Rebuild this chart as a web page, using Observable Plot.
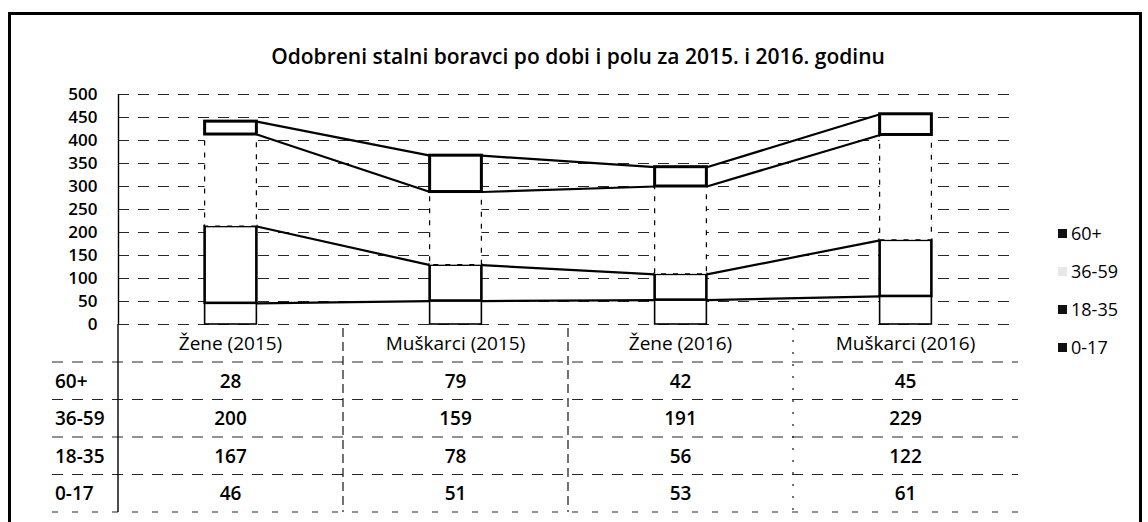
<!DOCTYPE html>
<html>
<head>
<meta charset="utf-8">
<script src="https://cdn.jsdelivr.net/npm/d3@7"></script>
<script src="https://cdn.jsdelivr.net/npm/@observablehq/plot@0.6"></script>
<style>
  html, body { margin: 0; padding: 0; background: #fff; }
  body { width: 1148px; height: 522px; position: relative; overflow: hidden; font-family: "Open Sans", sans-serif; color: #000; }
  #frame { position: absolute; left: 8px; top: 12px; width: 1134px; height: 530px; border: 3px solid #000; box-sizing: border-box; }
  #title { position: absolute; left: 0; width: 1156px; top: 42px; text-align: center; font-size: 21px; font-weight: 600; line-height: 28px; }
  #chart { position: absolute; left: 0; top: 70px; }
  #tablelines { position: absolute; left: 0; top: 0; pointer-events: none; }
  .t { position: absolute; white-space: nowrap; line-height: 1; }
  .c { transform: translate(-50%, -50%); }
  .l { transform: translate(0, -50%); }
  .hdr { font-size: 19px; font-weight: 500; }
  .val { font-size: 19px; font-weight: 600; }
  .rowlab { font-size: 19px; font-weight: 600; }
  .leg { position: absolute; left: 1058px; font-size: 18px; font-weight: 500; display: flex; align-items: center; transform: translate(0, -50%); white-space: nowrap; line-height: 1; }
  .leg i { display: inline-block; width: 9px; height: 9px; margin-right: 4px; }
</style>
</head>
<body>
<div id="frame"></div>
<div id="title">Odobreni stalni boravci po dobi i polu za 2015. i 2016. godinu</div>
<div id="chart"></div>
<script>
// ---- data ----
const categories = ["Žene (2015)", "Muškarci (2015)", "Žene (2016)", "Muškarci (2016)"];
const series = ["0-17", "18-35", "36-59", "60+"];          // stacking order, bottom to top
const values0_17 = [46, 51, 53, 61];
const values18_35 = [167, 78, 56, 122];
const values36_59 = [200, 159, 191, 229];
const values60plus = [28, 79, 42, 45];
const yTicks = [0, 50, 100, 150, 200, 250, 300, 350, 400, 450, 500];
const tableOrder = ["60+", "36-59", "18-35", "0-17"];      // rows of the data table
const legendOrder = ["60+", "36-59", "18-35", "0-17"];

const valuesBySeries = { "0-17": values0_17, "18-35": values18_35, "36-59": values36_59, "60+": values60plus };

// ---- styles ----
const hw = 0.115; // half bar width in category units
const segStyle = {
  "0-17":  { strokeWidth: 1.6, dash: null },
  "18-35": { strokeWidth: 2.6, dash: null },
  "36-59": { strokeWidth: 1.2, dash: "5,7" },
  "60+":   { strokeWidth: 3,   dash: null }
};
const legendFill = { "60+": "#111", "36-59": "#e8e8e8", "18-35": "#111", "0-17": "#111" };

// ---- build stacked segments ----
const segments = [];
categories.forEach((cat, i) => {
  let base = 0;
  series.forEach(s => {
    const v = valuesBySeries[s][i];
    segments.push({ series: s, i, x1: i - hw, x2: i + hw, y1: base, y2: base + v });
    base += v;
  });
});
const links = [];
series.forEach(s => {
  const tops = categories.map((c, i) => segments.find(d => d.series === s && d.i === i).y2);
  for (let i = 0; i < categories.length - 1; i++) {
    links.push({ series: s, x1: i + hw, x2: i + 1 - hw, y1: tops[i], y2: tops[i + 1] });
  }
});

const plotH = 282, mTop = 24, mBottom = 28;
const plot = Plot.plot({
  width: 1148,
  height: plotH,
  marginLeft: 118,
  marginRight: 130,
  marginTop: mTop,
  marginBottom: mBottom,
  x: { type: "linear", domain: [-0.5, categories.length - 0.5], axis: null },
  y: { domain: [0, 500], axis: null },
  style: { background: "transparent", fontFamily: "Open Sans, sans-serif", fontSize: "17px", fontWeight: 600, color: "#000" },
  marks: [
    Plot.ruleY(yTicks, { x1: -0.5, x2: categories.length - 0.5, stroke: "#000", strokeWidth: 1.2, strokeDasharray: "11,9", strokeOpacity: 0.85 }),
    Plot.axisY({ ticks: yTicks, tickSize: 0, tickPadding: 21, fill: "#000" }),
    Plot.ruleX([-0.5], { y1: 0, y2: 500, stroke: "#000", strokeWidth: 1.4 }),
    Plot.link(links, { x1: "x1", y1: "y1", x2: "x2", y2: "y2", stroke: "#000", strokeWidth: 2.2 }),
    ...series.map(s => Plot.rect(segments.filter(d => d.series === s), {
      x1: "x1", x2: "x2", y1: "y1", y2: "y2",
      fill: "#fff", stroke: "#000",
      strokeWidth: segStyle[s].strokeWidth,
      strokeDasharray: segStyle[s].dash || undefined
    }))
  ]
});
document.getElementById("chart").appendChild(plot);

// ---- data table below the plot, aligned with the plot's x scale ----
const xs = plot.scale("x");
const chartTop = 70;
const y0 = chartTop + plotH - mBottom;           // pixel of value 0
const colEdges = d3.range(categories.length + 1).map(k => xs.apply(k - 0.5));
const headerMid = y0 + 19;
const rowH = 37.5;
const firstRowTop = y0 + 38;
const rowMid = k => firstRowTop + rowH * (k + 0.5);

const body = document.body;
function addText(txt, x, y, cls) {
  const d = document.createElement("div");
  d.className = "t " + cls;
  d.textContent = txt;
  d.style.left = x + "px";
  d.style.top = y + "px";
  body.appendChild(d);
}
categories.forEach((c, i) => addText(c, xs.apply(i), headerMid, "c hdr"));
tableOrder.forEach((s, k) => {
  addText(s, 55, rowMid(k), "l rowlab");
  valuesBySeries[s].forEach((v, i) => addText(String(v), xs.apply(i), rowMid(k), "c val"));
});

// table grid lines
const svg = d3.select(body).append("svg").attr("id", "tablelines").attr("width", 1148).attr("height", 522);
const tableBottom = firstRowTop + rowH * tableOrder.length;
d3.range(tableOrder.length + 1).forEach(k => {
  const y = firstRowTop + rowH * k;
  svg.append("line").attr("x1", 52).attr("x2", colEdges[colEdges.length - 1])
    .attr("y1", y).attr("y2", y)
    .attr("stroke", "#000").attr("stroke-width", 1.2).attr("stroke-opacity", 0.85)
    .attr("stroke-dasharray", k === tableOrder.length ? "6,14" : "11,9");
});
colEdges.slice(0, -1).forEach((x, k) => {
  svg.append("line").attr("x1", x).attr("x2", x)
    .attr("y1", k === 0 ? y0 : y0 + 4).attr("y2", tableBottom)
    .attr("stroke", "#000").attr("stroke-width", k === 0 ? 1.4 : 1.1)
    .attr("stroke-dasharray", k === 0 ? null : (k === 3 ? "2,10" : "9,5"));
});

// ---- legend ----
legendOrder.forEach((s, k) => {
  const d = document.createElement("div");
  d.className = "leg";
  d.style.top = (233 + 38 * k) + "px";
  const sw = document.createElement("i");
  sw.style.background = legendFill[s];
  d.appendChild(sw);
  d.appendChild(document.createTextNode(s));
  body.appendChild(d);
});
</script>
</body>
</html>
